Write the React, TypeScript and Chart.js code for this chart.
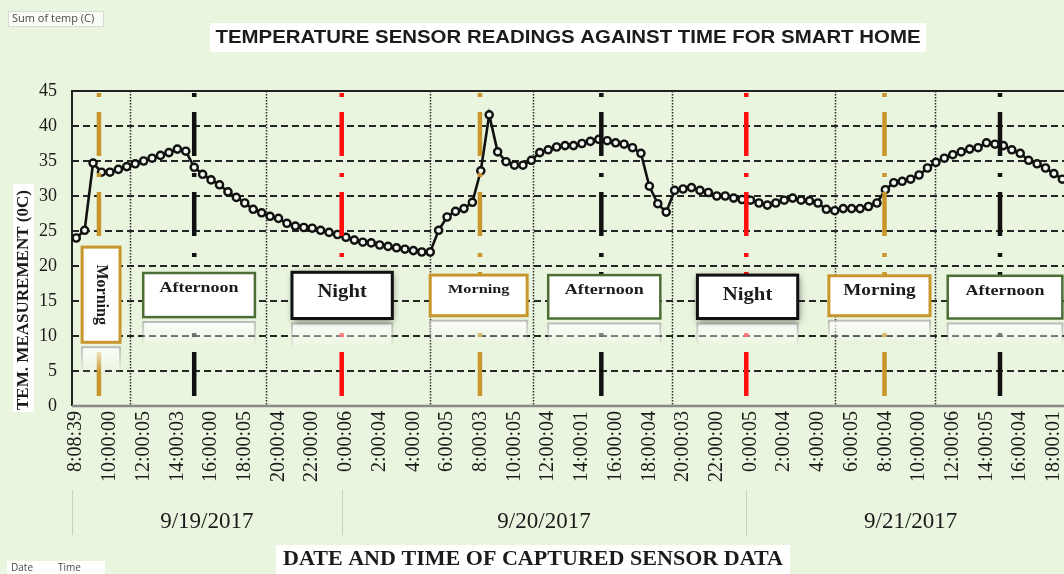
import React, { useEffect, useRef } from "react";
import { Chart, registerables } from "chart.js";

Chart.register(...registerables);

// ---------------- data ----------------
const tickTimes = [
  "8:08:39", "10:00:00", "12:00:05", "14:00:03", "16:00:00", "18:00:05", "20:00:04", "22:00:00",
  "0:00:06", "2:00:04", "4:00:00", "6:00:05", "8:00:03", "10:00:05", "12:00:04", "14:00:01",
  "16:00:00", "18:00:04", "20:00:03", "22:00:00",
  "0:00:05", "2:00:04", "4:00:00", "6:00:05", "8:00:04", "10:00:00", "12:00:06", "14:00:05",
  "16:00:04", "18:00:01",
];
const POINTS_PER_TICK = 4; // readings every 30 min, a label every 2 h

const dateLabels = ["9/19/2017", "9/20/2017", "9/21/2017"];
const dateStartIndex = [0, 32, 80];

const temps = [
  24.0, 25.1, 34.7, 33.4, 33.4, 33.8, 34.2, 34.6, 35.0, 35.4,
  35.8, 36.2, 36.7, 36.4, 34.1, 33.1, 32.3, 31.6, 30.6, 29.8,
  29.0, 28.1, 27.6, 27.1, 26.8, 26.1, 25.7, 25.5, 25.4, 25.1,
  24.8, 24.5, 24.1, 23.7, 23.4, 23.3, 23.0, 22.8, 22.6, 22.4,
  22.2, 22.0, 22.0, 25.1, 27.0, 27.8, 28.2, 29.1, 33.6, 41.6,
  36.3, 34.9, 34.4, 34.4, 35.1, 36.2, 36.6, 37.0, 37.2, 37.2,
  37.5, 37.8, 38.1, 37.9, 37.6, 37.4, 36.9, 36.1, 31.4, 28.9,
  27.7, 30.8, 31.0, 31.2, 30.8, 30.5, 30.0, 30.0, 29.7, 29.5,
  29.4, 29.0, 28.7, 29.0, 29.4, 29.7, 29.4, 29.3, 29.0, 28.1,
  27.9, 28.2, 28.2, 28.2, 28.5, 29.0, 30.9, 31.9, 32.1, 32.4,
  33.0, 34.0, 34.8, 35.4, 35.9, 36.3, 36.7, 36.9, 37.6, 37.4,
  37.2, 36.6, 36.1, 35.1, 34.6, 34.0, 33.2, 32.4, 31.8,
];

const yTicks = [0, 5, 10, 15, 20, 25, 30, 35, 40, 45];

// period markers (position in reading index) and their kind
const periodLineIndex = [2.7, 14.0, 31.5, 47.9, 62.3, 79.5, 95.9, 109.6];
const periodLineKind = ["morning", "afternoon", "night", "morning", "afternoon", "night", "morning", "afternoon"];

// hand-drawn dotted vertical guides (reading index)
const dottedGuideIndex = [6.4, 22.5, 42.0, 54.2, 70.7, 90.0, 101.9];

// period label boxes
const boxLabels = ["Morning", "Afternoon", "Night", "Morning", "Afternoon", "Night", "Morning", "Afternoon"];
const boxKind = ["morning", "afternoon", "night", "morning", "afternoon", "night", "morning", "afternoon"];
const boxStartIndex = [0.7, 7.95, 25.6, 42.0, 56.0, 73.7, 89.3, 103.4];
const boxEndIndex = [5.2, 21.2, 37.5, 53.5, 69.3, 85.6, 101.3, 117.0];
const boxTopValue = [22.7, 19.0, 19.1, 18.7, 18.7, 18.7, 18.6, 18.6];
const boxBottomValue = [9.1, 12.7, 12.5, 12.9, 12.5, 12.5, 12.9, 12.5];

// ---------------- styles ----------------
const BG = "#e9f5de";
const GOLD = "#c8962c";
const GREEN = "#4e6d35";
const RED = "#ff0d0d";
const INK = "#1b1b1b";
const SERIF = "'Liberation Serif', 'Times New Roman', serif";
const SANS = "'Liberation Sans', Arial, sans-serif";

const boxFontSize = [16, 15, 18, 13, 15, 18, 16, 15];
const boxTextStretch = [1.0, 1.2, 1.15, 1.25, 1.2, 1.15, 1.2, 1.2];

function lineColor(kind: string) {
  if (kind === "morning") return GOLD;
  if (kind === "night") return RED;
  return "#111";
}
function boxBorder(kind: string) {
  if (kind === "morning") return GOLD;
  if (kind === "night") return "#111";
  return GREEN;
}

function fitText(ctx: CanvasRenderingContext2D, text: string, cx: number, cy: number, font: string, targetW: number, rot = 0) {
  ctx.save();
  ctx.font = font;
  const w = ctx.measureText(text).width;
  ctx.translate(cx, cy);
  if (rot) ctx.rotate(rot);
  ctx.scale(targetW / w, 1);
  ctx.textAlign = "center";
  ctx.textBaseline = "middle";
  ctx.fillText(text, 0, 0);
  ctx.restore();
}

const decorPlugin = {
  id: "decor",
  beforeDraw(chart: any) {
    const { ctx, width, height } = chart;
    ctx.save();
    ctx.fillStyle = BG;
    ctx.fillRect(0, 0, width, height);
    ctx.restore();
  },
  beforeDatasetsDraw(chart: any) {
    const { ctx, chartArea: a, scales } = chart;
    const x = scales.x, y = scales.y;
    ctx.save();
    // dashed horizontal gridlines
    ctx.strokeStyle = "#262626";
    ctx.lineWidth = 1.8;
    ctx.setLineDash([7, 4]);
    for (const t of yTicks) {
      if (t === yTicks[0] || t === yTicks[yTicks.length - 1]) continue;
      const py = Math.round(y.getPixelForValue(t));
      ctx.beginPath();
      ctx.moveTo(a.left, py);
      ctx.lineTo(a.right, py);
      ctx.stroke();
    }
    // dotted vertical guides
    ctx.setLineDash([1.5, 1.5]);
    ctx.lineWidth = 1.5;
    ctx.strokeStyle = "#2a2a2a";
    for (const i of dottedGuideIndex) {
      const px = Math.round(x.getPixelForValue(i)) + 0.5;
      ctx.beginPath();
      ctx.moveTo(px, a.top);
      ctx.lineTo(px, a.bottom);
      ctx.stroke();
    }
    // plot borders
    ctx.setLineDash([]);
    ctx.strokeStyle = "#222";
    ctx.lineWidth = 2;
    ctx.beginPath();
    ctx.moveTo(a.left, a.bottom);
    ctx.lineTo(a.left, a.top);
    ctx.lineTo(a.right, a.top);
    ctx.stroke();
    ctx.strokeStyle = "#8a8a8a";
    ctx.lineWidth = 2.5;
    ctx.beginPath();
    ctx.moveTo(a.left, a.bottom);
    ctx.lineTo(a.right, a.bottom);
    ctx.stroke();
    ctx.restore();
  },
  afterDatasetsDraw(chart: any) {
    const { ctx, chartArea: a, scales } = chart;
    const x = scales.x, y = scales.y;
    ctx.save();
    // dash-dot period lines
    ctx.lineWidth = 4.5;
    ctx.setLineDash([4, 15, 44, 17]);
    ctx.lineDashOffset = -2;
    periodLineIndex.forEach((i, k) => {
      const px = x.getPixelForValue(i);
      ctx.strokeStyle = lineColor(periodLineKind[k]);
      ctx.beginPath();
      ctx.moveTo(px, a.top);
      ctx.lineTo(px, a.bottom);
      ctx.stroke();
    });
    ctx.setLineDash([]);
    ctx.lineDashOffset = 0;

    // label boxes
    boxLabels.forEach((label, k) => {
      const x0 = x.getPixelForValue(boxStartIndex[k]);
      const x1 = x.getPixelForValue(boxEndIndex[k]);
      const y0 = y.getPixelForValue(boxTopValue[k]);
      const y1 = y.getPixelForValue(boxBottomValue[k]);
      const w = x1 - x0, h = y1 - y0;
      const kind = boxKind[k];

      // faint reflection below
      const ry = y1 + 5, rh = Math.min(h * 0.55, 26);
      const g = ctx.createLinearGradient(0, ry, 0, ry + rh);
      g.addColorStop(0, "rgba(255,255,255,0.85)");
      g.addColorStop(1, "rgba(255,255,255,0)");
      ctx.fillStyle = g;
      ctx.fillRect(x0, ry, w, rh);
      const g2 = ctx.createLinearGradient(0, ry, 0, ry + rh);
      g2.addColorStop(0, "rgba(150,150,150,0.6)");
      g2.addColorStop(1, "rgba(150,150,150,0)");
      ctx.strokeStyle = g2;
      ctx.lineWidth = 2;
      ctx.beginPath();
      ctx.moveTo(x0, ry + rh);
      ctx.lineTo(x0, ry);
      ctx.lineTo(x1, ry);
      ctx.lineTo(x1, ry + rh);
      ctx.stroke();

      // box
      ctx.save();
      if (kind === "night") {
        ctx.shadowColor = "rgba(0,0,0,0.55)";
        ctx.shadowBlur = 7;
        ctx.shadowOffsetX = 1;
        ctx.shadowOffsetY = 2;
      }
      ctx.fillStyle = "#ffffff";
      ctx.fillRect(x0, y0, w, h);
      ctx.restore();
      ctx.strokeStyle = boxBorder(kind);
      ctx.lineWidth = kind === "afternoon" ? 2.5 : 3;
      ctx.strokeRect(x0, y0, w, h);

      // text
      ctx.fillStyle = INK;
      const font = `bold ${boxFontSize[k]}px ${SERIF}`;
      if (h > w * 1.5) {
        ctx.save();
        ctx.font = font;
        ctx.translate(x0 + w / 2, y0 + h / 2);
        ctx.rotate(Math.PI / 2);
        ctx.textAlign = "center";
        ctx.textBaseline = "middle";
        ctx.fillText(label, 0, 0);
        ctx.restore();
      } else {
        const ty = y0 + (kind === "night" ? 20 : 15);
        ctx.save();
        ctx.font = font;
        ctx.translate(x0 + w / 2, ty);
        ctx.scale(boxTextStretch[k], 1);
        ctx.textAlign = "center";
        ctx.textBaseline = "middle";
        ctx.fillText(label, 0, 0);
        ctx.restore();
      }
    });
    ctx.restore();
  },
  afterDraw(chart: any) {
    const { ctx, scales } = chart;
    const x = scales.x;
    ctx.save();

    // date group separators and labels
    const total = temps.length;
    ctx.strokeStyle = "#c9cfc4";
    ctx.lineWidth = 1;
    dateStartIndex.forEach((s, k) => {
      const px = Math.round(x.getPixelForValue(s - 0.5)) + 0.5;
      ctx.beginPath();
      ctx.moveTo(px, 490);
      ctx.lineTo(px, 535);
      ctx.stroke();
      const e = k + 1 < dateStartIndex.length ? dateStartIndex[k + 1] : total;
      const cx = x.getPixelForValue((s + e - 1) / 2);
      ctx.fillStyle = INK;
      ctx.font = `23px ${SERIF}`;
      ctx.textAlign = "center";
      ctx.textBaseline = "middle";
      ctx.fillText(dateLabels[k], cx, 522);
    });

    // chart title
    ctx.fillStyle = "#ffffff";
    ctx.fillRect(210, 23, 716, 29);
    ctx.fillStyle = INK;
    fitText(ctx, "TEMPERATURE SENSOR READINGS AGAINST TIME FOR SMART HOME", 568, 38, `bold 19px ${SANS}`, 705);

    // x axis title
    ctx.fillStyle = "#ffffff";
    ctx.fillRect(276, 545, 514, 29);
    ctx.fillStyle = INK;
    fitText(ctx, "DATE AND TIME OF CAPTURED SENSOR DATA", 533, 560, `bold 20px ${SERIF}`, 500);

    // y axis title
    ctx.fillStyle = "#ffffff";
    ctx.fillRect(13, 184, 21, 228);
    ctx.fillStyle = INK;
    ctx.save();
    ctx.font = `bold 17px ${SERIF}`;
    const yt = "TEM. MEASUREMENT (0C)";
    const tw = ctx.measureText(yt).width;
    ctx.translate(24, 300);
    ctx.rotate(-Math.PI / 2);
    ctx.scale(220 / tw, 1);
    ctx.textAlign = "center";
    ctx.textBaseline = "middle";
    ctx.fillText(yt, 0, 0);
    ctx.restore();

    // pivot field buttons
    ctx.fillStyle = "rgba(255,255,255,0.7)";
    ctx.fillRect(8, 11, 96, 16);
    ctx.strokeStyle = "#d6dccf";
    ctx.lineWidth = 1;
    ctx.strokeRect(8.5, 11.5, 95, 15);
    ctx.fillStyle = "#4a4a4a";
    ctx.font = `11px 'Open Sans', ${SANS}`;
    ctx.textAlign = "left";
    ctx.textBaseline = "middle";
    ctx.fillText("Sum of temp (C)", 12, 19);

    ctx.fillStyle = "#ffffff";
    ctx.fillRect(7, 561, 98, 13);
    ctx.fillStyle = "#4a4a4a";
    ctx.font = `10px 'Open Sans', ${SANS}`;
    ctx.fillText("Date", 11, 568);
    ctx.fillText("Time", 58, 568);

    ctx.restore();
  },
};

export default function App() {
  const ref = useRef<HTMLCanvasElement | null>(null);

  useEffect(() => {
    if (!ref.current) return;
    const chart = new Chart(ref.current, {
      type: "line",
      data: {
        datasets: [
          {
            label: "Sum of temp (C)",
            data: temps.map((v, i) => ({ x: i, y: v })),
            borderColor: "#111",
            borderWidth: 2.6,
            pointRadius: 3.6,
            pointBorderWidth: 2.4,
            pointBackgroundColor: "#f3f8ee",
            pointBorderColor: "#111",
            tension: 0,
          },
        ],
      },
      options: {
        responsive: false,
        animation: false,
        devicePixelRatio: 1,
        layout: { padding: { left: 0, right: 15, top: 91, bottom: 0 } },
        plugins: {
          legend: { display: false },
          tooltip: { enabled: false },
          title: { display: false },
        },
        scales: {
          x: {
            type: "linear",
            min: -0.5,
            max: temps.length - 0.5,
            grid: { display: false, drawTicks: false },
            border: { display: false },
            afterBuildTicks: (s: any) => {
              s.ticks = tickTimes.map((_, k) => ({ value: k * POINTS_PER_TICK }));
            },
            afterFit: (s: any) => {
              s.height = 168;
            },
            ticks: {
              autoSkip: false,
              minRotation: 90,
              maxRotation: 90,
              padding: 5,
              color: INK,
              font: { family: SERIF, size: 20 },
              callback: (_v: any, idx: number) => tickTimes[idx] ?? "",
            },
          },
          y: {
            min: 0,
            max: 45,
            grid: { display: false, drawTicks: false },
            border: { display: false },
            afterBuildTicks: (s: any) => {
              s.ticks = yTicks.map((v) => ({ value: v }));
            },
            afterFit: (s: any) => {
              s.width = 72;
            },
            ticks: {
              padding: 15,
              color: INK,
              font: { family: SERIF, size: 18 },
            },
          },
        },
      },
      plugins: [decorPlugin],
    } as any);
    return () => chart.destroy();
  }, []);

  return (
    <div
      style={{
        position: "fixed",
        left: 0,
        top: 0,
        width: 1064,
        height: 574,
        overflow: "hidden",
        background: BG,
      }}
    >
      <canvas ref={ref} width={1090} height={574} style={{ display: "block", width: 1090, height: 574 }} />
    </div>
  );
}
